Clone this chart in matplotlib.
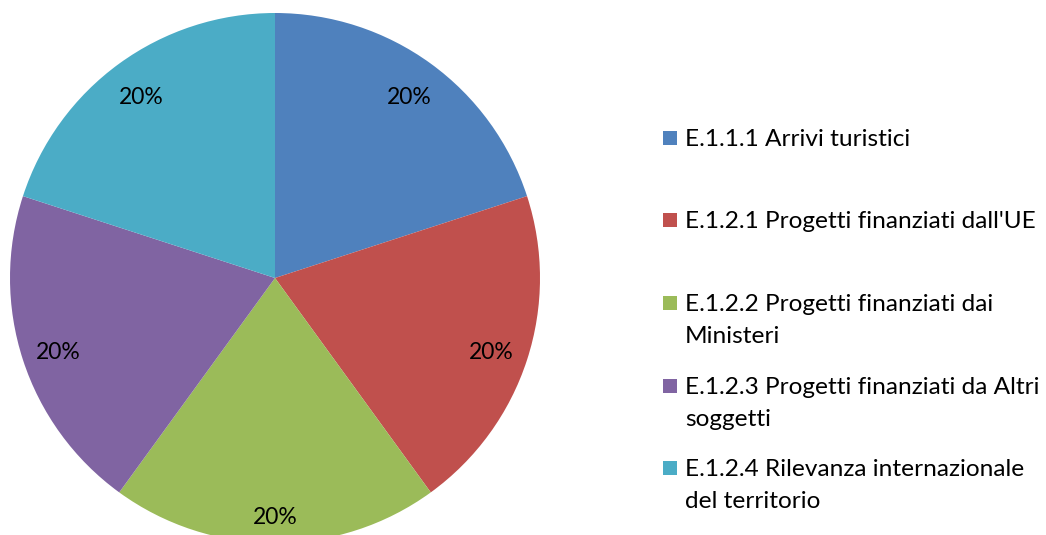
import matplotlib
matplotlib.use("Agg")
import matplotlib.pyplot as plt
from matplotlib.patches import Rectangle

labels = [
    "E.1.1.1 Arrivi turistici",
    "E.1.2.1 Progetti finanziati dall'UE",
    "E.1.2.2 Progetti finanziati dai\nMinisteri",
    "E.1.2.3 Progetti finanziati da Altri\nsoggetti",
    "E.1.2.4 Rilevanza internazionale\ndel territorio",
]
shares = [20, 20, 20, 20, 20]
colors = ["#4F81BD", "#C0504D", "#9BBB59", "#8064A2", "#4BACC6"]

plt.rcParams["font.family"] = ["Lato", "DejaVu Sans"]

W, H = 1046, 535
fig = plt.figure(figsize=(W / 100, H / 100), dpi=100)

# pie: centre (275, 278) px from top-left, radius 265 px
cx, cy, r = 275, H - 278, 265
ax = fig.add_axes([(cx - r) / W, (cy - r) / H, 2 * r / W, 2 * r / H])
wedges, texts, autotexts = ax.pie(
    shares, colors=colors, startangle=90, counterclock=False,
    autopct="%.0f%%", pctdistance=0.86, radius=1,
    wedgeprops=dict(linewidth=0),
    textprops=dict(fontsize=16.5, color="black"),
)
# nudge labels down a touch; the bottom one a bit more
for i, t in enumerate(autotexts):
    x, y = t.get_position()
    t.set_position((x, y - (0.045 if i == 2 else 0.015)))
ax.set_xlim(-1, 1)
ax.set_ylim(-1, 1)
ax.axis("off")

# legend drawn by hand to keep the even spacing of the original
first_line_y = [138, 220, 303, 386, 468]
for lab, col, ly in zip(labels, colors, first_line_y):
    fig.patches.append(Rectangle((663 / W, (H - ly - 7) / H), 14 / W, 14 / H,
                                 transform=fig.transFigure, facecolor=col,
                                 edgecolor="none"))
    fig.text(685 / W, (H - ly + 9) / H, lab, fontsize=17.6, va="top", ha="left",
             linespacing=1.66, color="black")

fig.savefig("out.png", dpi=100)
